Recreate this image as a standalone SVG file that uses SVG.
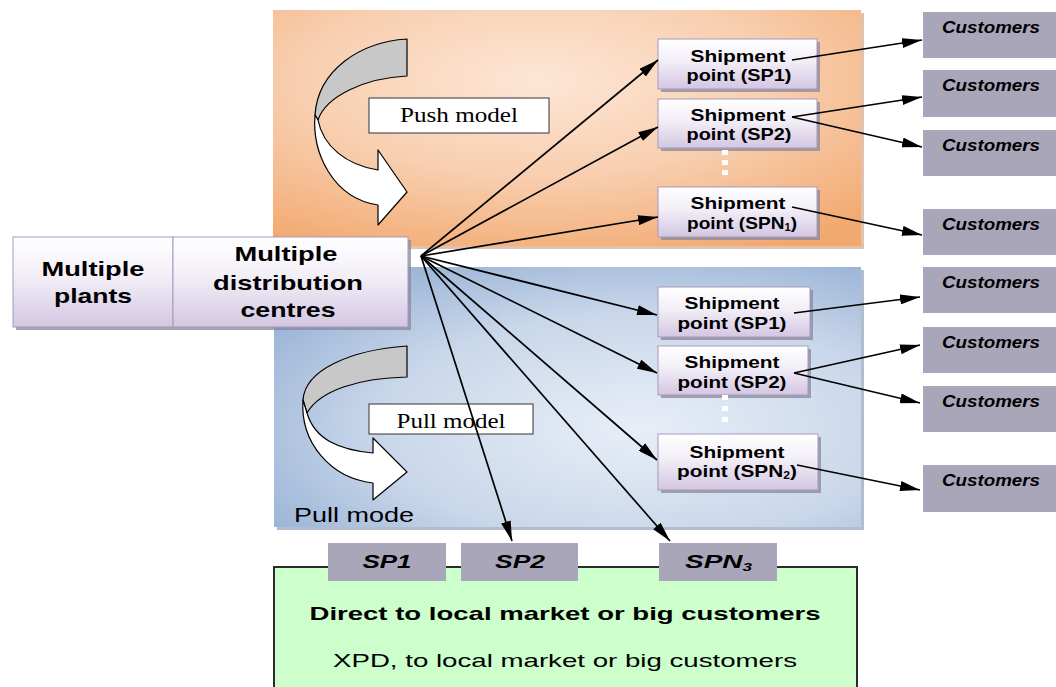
<svg xmlns="http://www.w3.org/2000/svg" width="1056" height="687" viewBox="0 0 1056 687">
  <defs>
    <radialGradient id="gPush" cx="0.45" cy="0.3" r="0.8">
      <stop offset="0" stop-color="#fde6d6"/>
      <stop offset="0.5" stop-color="#f8cfb0"/>
      <stop offset="1" stop-color="#f2a970"/>
    </radialGradient>
    <radialGradient id="gPull" cx="0.62" cy="0.62" r="0.8">
      <stop offset="0" stop-color="#e8eef7"/>
      <stop offset="0.55" stop-color="#c9d7ea"/>
      <stop offset="1" stop-color="#90acd2"/>
    </radialGradient>
    <linearGradient id="gNode" x1="0" y1="0" x2="0" y2="1">
      <stop offset="0" stop-color="#ffffff"/>
      <stop offset="0.45" stop-color="#f2eef7"/>
      <stop offset="1" stop-color="#d3c6e2"/>
    </linearGradient>
    <marker id="ah" viewBox="0 0 20 10" refX="20" refY="5" markerWidth="20" markerHeight="10" markerUnits="userSpaceOnUse" orient="auto">
      <path d="M0,0 L20,5 L0,10 Z" fill="#000"/>
    </marker>
    <style>
      .node { fill: url(#gNode); stroke: #a699bd; stroke-width: 1; }
      .shadow { fill: #8a8798; opacity: 0.75; }
      .cust { fill: #aaa6ba; }
      .sans { font-family: "Liberation Sans", Arial, sans-serif; fill: #000; }
      .b { font-weight: bold; }
      .bi { font-weight: bold; font-style: italic; }
      .ship { font-size: 17px; }
      .big { font-size: 21px; }
      .ctxt { font-size: 16.5px; }
      .serif { font-family: "Liberation Serif", "Times New Roman", serif; font-size: 20px; fill: #000; }
      .label { fill: #fff; stroke: #333; stroke-width: 1; }
      .dot { fill: #fff; }
      .conn line { stroke: #000; stroke-width: 1.7; marker-end: url(#ah); }
      .swoop { stroke: #000; stroke-width: 1.2; stroke-linejoin: round; }
    </style>
  </defs>

  <rect width="1056" height="687" fill="#ffffff"/>

  <!-- push region -->
  <g id="push-region">
    <rect x="276" y="13" width="588" height="236" fill="#c99a7a" opacity="0.6"/>
    <rect x="273" y="10" width="588" height="236" fill="url(#gPush)"/>
    <path class="swoop" d="M407,39 C360,42 318,70 315,115 L318,120 C326,96 365,78 407,76 Z" fill="#c8c8c8"/>
    <path class="swoop" d="M315,115 C312,152 332,198 378,205 L378,225 L407,192 L378,150 L378,170 C346,165 323,146 318,120 Z" fill="#ffffff"/>
    <rect class="label" x="369" y="98" width="180" height="35"/>
    <text class="serif" x="459" y="122" text-anchor="middle" textLength="118" lengthAdjust="spacingAndGlyphs">Push model</text>
  </g>

  <!-- pull region -->
  <g id="pull-region">
    <rect x="277" y="270" width="587" height="260" fill="#7f93ad" opacity="0.6"/>
    <rect x="274" y="267" width="587" height="260" fill="url(#gPull)"/>
    <path class="swoop" d="M407,346 C350,350 305,370 303,400 L307,413 C320,390 360,378 407,377 Z" fill="#c8c8c8"/>
    <path class="swoop" d="M303,400 C300,442 330,478 373,483 L373,500 L407,472 L373,438 L373,453 C340,450 315,440 307,413 Z" fill="#ffffff"/>
    <rect class="label" x="369" y="404" width="164" height="30"/>
    <text class="serif" x="451" y="428" text-anchor="middle" textLength="109" lengthAdjust="spacingAndGlyphs">Pull model</text>
    <text class="sans" x="294" y="522" font-size="21" fill="#1b1b30" textLength="120" lengthAdjust="spacingAndGlyphs">Pull mode</text>
  </g>

  <!-- source nodes -->
  <g id="plants">
    <rect class="shadow" x="16" y="240" width="160" height="90"/>
    <rect class="node" x="13" y="237" width="160" height="90"/>
    <text class="sans b big" x="93" y="276" text-anchor="middle" textLength="103" lengthAdjust="spacingAndGlyphs">Multiple</text>
    <text class="sans b big" x="93" y="303" text-anchor="middle" textLength="78" lengthAdjust="spacingAndGlyphs">plants</text>
  </g>
  <g id="distribution-centres">
    <rect class="shadow" x="176" y="240" width="235" height="90"/>
    <rect class="node" x="173" y="237" width="235" height="90"/>
    <text class="sans b big" x="286" y="261" text-anchor="middle" textLength="103" lengthAdjust="spacingAndGlyphs">Multiple</text>
    <text class="sans b big" x="288" y="290" text-anchor="middle" textLength="150" lengthAdjust="spacingAndGlyphs">distribution</text>
    <text class="sans b big" x="288" y="317" text-anchor="middle" textLength="95" lengthAdjust="spacingAndGlyphs">centres</text>
  </g>

  <!-- push shipment points -->
  <g id="push-sp1">
    <rect class="shadow" x="661" y="42" width="159" height="50"/>
    <rect class="node" x="658" y="39" width="159" height="50"/>
    <text class="sans b ship" x="738" y="62" text-anchor="middle" textLength="95" lengthAdjust="spacingAndGlyphs">Shipment</text>
    <text class="sans b ship" x="739" y="81" text-anchor="middle" textLength="105" lengthAdjust="spacingAndGlyphs">point (SP1)</text>
  </g>
  <g id="push-sp2">
    <rect class="shadow" x="661" y="102" width="159" height="49"/>
    <rect class="node" x="658" y="99" width="159" height="49"/>
    <text class="sans b ship" x="738" y="121" text-anchor="middle" textLength="95" lengthAdjust="spacingAndGlyphs">Shipment</text>
    <text class="sans b ship" x="739" y="140" text-anchor="middle" textLength="105" lengthAdjust="spacingAndGlyphs">point (SP2)</text>
  </g>
  <g id="push-dots">
    <rect class="dot" x="722" y="150" width="6" height="5"/>
    <rect class="dot" x="722" y="160" width="6" height="5"/>
    <rect class="dot" x="722" y="170" width="6" height="5"/>
  </g>
  <g id="push-spn1">
    <rect class="shadow" x="661" y="190" width="159" height="50"/>
    <rect class="node" x="658" y="187" width="159" height="50"/>
    <text class="sans b ship" x="738" y="209" text-anchor="middle" textLength="95" lengthAdjust="spacingAndGlyphs">Shipment</text>
    <text class="sans b ship" x="742" y="229" text-anchor="middle" textLength="110" lengthAdjust="spacingAndGlyphs">point (SPN<tspan font-size="10" dy="2">1</tspan><tspan dy="-2">)</tspan></text>
  </g>

  <!-- pull shipment points -->
  <g id="pull-sp1">
    <rect class="shadow" x="661" y="290" width="152" height="50"/>
    <rect class="node" x="658" y="287" width="152" height="50"/>
    <text class="sans b ship" x="732" y="309" text-anchor="middle" textLength="95" lengthAdjust="spacingAndGlyphs">Shipment</text>
    <text class="sans b ship" x="732" y="329" text-anchor="middle" textLength="109" lengthAdjust="spacingAndGlyphs">point (SP1)</text>
  </g>
  <g id="pull-sp2">
    <rect class="shadow" x="661" y="349" width="150" height="49"/>
    <rect class="node" x="658" y="346" width="150" height="49"/>
    <text class="sans b ship" x="732" y="368" text-anchor="middle" textLength="95" lengthAdjust="spacingAndGlyphs">Shipment</text>
    <text class="sans b ship" x="732" y="388" text-anchor="middle" textLength="109" lengthAdjust="spacingAndGlyphs">point (SP2)</text>
  </g>
  <g id="pull-dots">
    <rect class="dot" x="722" y="395" width="6" height="5"/>
    <rect class="dot" x="722" y="406" width="6" height="5"/>
    <rect class="dot" x="722" y="417" width="6" height="5"/>
  </g>
  <g id="pull-spn2">
    <rect class="shadow" x="661" y="437" width="160" height="56"/>
    <rect class="node" x="658" y="434" width="160" height="56"/>
    <text class="sans b ship" x="737" y="458" text-anchor="middle" textLength="95" lengthAdjust="spacingAndGlyphs">Shipment</text>
    <text class="sans b ship" x="737" y="477" text-anchor="middle" textLength="120" lengthAdjust="spacingAndGlyphs">point (SPN<tspan font-size="10" dy="2">2</tspan><tspan dy="-2">)</tspan></text>
  </g>

  <!-- customer groups -->
  <g id="cust-1"><rect class="cust" x="923" y="12" width="140" height="46"/><text class="sans bi ctxt" x="942" y="33" textLength="98" lengthAdjust="spacingAndGlyphs">Customers</text></g>
  <g id="cust-2"><rect class="cust" x="923" y="70" width="140" height="47"/><text class="sans bi ctxt" x="942" y="91" textLength="98" lengthAdjust="spacingAndGlyphs">Customers</text></g>
  <g id="cust-3"><rect class="cust" x="923" y="130" width="140" height="46"/><text class="sans bi ctxt" x="942" y="151" textLength="98" lengthAdjust="spacingAndGlyphs">Customers</text></g>
  <g id="cust-4"><rect class="cust" x="923" y="209" width="140" height="46"/><text class="sans bi ctxt" x="942" y="230" textLength="98" lengthAdjust="spacingAndGlyphs">Customers</text></g>
  <g id="cust-5"><rect class="cust" x="923" y="267" width="140" height="46"/><text class="sans bi ctxt" x="942" y="288" textLength="98" lengthAdjust="spacingAndGlyphs">Customers</text></g>
  <g id="cust-6"><rect class="cust" x="923" y="327" width="140" height="46"/><text class="sans bi ctxt" x="942" y="348" textLength="98" lengthAdjust="spacingAndGlyphs">Customers</text></g>
  <g id="cust-7"><rect class="cust" x="923" y="386" width="140" height="46"/><text class="sans bi ctxt" x="942" y="407" textLength="98" lengthAdjust="spacingAndGlyphs">Customers</text></g>
  <g id="cust-8"><rect class="cust" x="923" y="465" width="140" height="47"/><text class="sans bi ctxt" x="942" y="486" textLength="98" lengthAdjust="spacingAndGlyphs">Customers</text></g>

  <!-- direct delivery block -->
  <g id="direct-market">
    <rect x="274" y="567" width="583" height="140" fill="#ccffcc" stroke="#2b2b2b" stroke-width="2"/>
    <text class="sans b" x="565" y="620" font-size="19" text-anchor="middle" textLength="511" lengthAdjust="spacingAndGlyphs">Direct to local market or big customers</text>
    <text class="sans" x="565" y="667" font-size="19" text-anchor="middle" textLength="464" lengthAdjust="spacingAndGlyphs">XPD, to local market or big customers</text>
  </g>
  <g id="tab-sp1"><rect class="cust" x="328" y="543" width="118" height="38"/><text class="sans bi" x="387" y="568" font-size="18" text-anchor="middle" textLength="49" lengthAdjust="spacingAndGlyphs">SP1</text></g>
  <g id="tab-sp2"><rect class="cust" x="461" y="543" width="117" height="38"/><text class="sans bi" x="520" y="568" font-size="18" text-anchor="middle" textLength="50" lengthAdjust="spacingAndGlyphs">SP2</text></g>
  <g id="tab-spn3"><rect class="cust" x="659" y="543" width="118" height="38"/><text class="sans bi" x="685" y="568" font-size="18" textLength="67" lengthAdjust="spacingAndGlyphs">SPN<tspan font-size="11" dy="3">3</tspan></text></g>

  <!-- connectors -->
  <g class="conn" id="connectors">
    <line x1="421" y1="256" x2="658" y2="60"/>
    <line x1="421" y1="256" x2="658" y2="127"/>
    <line x1="421" y1="256" x2="658" y2="217"/>
    <line x1="421" y1="256" x2="657" y2="315"/>
    <line x1="421" y1="256" x2="657" y2="373"/>
    <line x1="421" y1="256" x2="657" y2="460"/>
    <line x1="421" y1="256" x2="512" y2="541"/>
    <line x1="421" y1="256" x2="670" y2="541"/>
    <line x1="792" y1="60" x2="922" y2="40"/>
    <line x1="792" y1="117" x2="922" y2="97"/>
    <line x1="792" y1="117" x2="922" y2="147"/>
    <line x1="792" y1="207" x2="922" y2="235"/>
    <line x1="794" y1="313" x2="920" y2="297"/>
    <line x1="794" y1="373" x2="920" y2="345"/>
    <line x1="794" y1="373" x2="920" y2="403"/>
    <line x1="797" y1="465" x2="920" y2="490"/>
  </g>
</svg>
